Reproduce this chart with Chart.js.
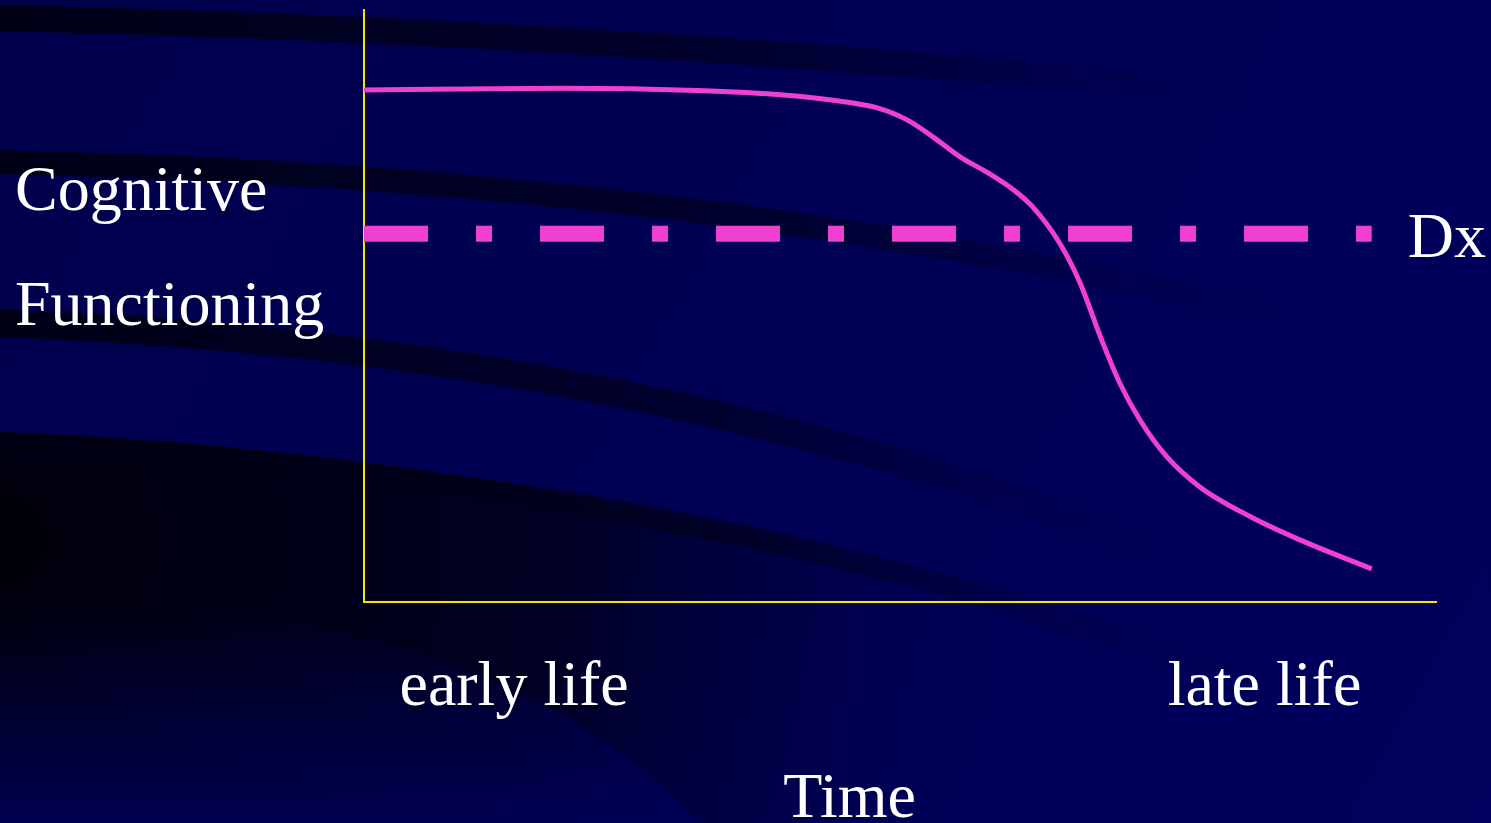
<!DOCTYPE html>
<html>
<head>
<meta charset="utf-8">
<title>Cognitive Functioning over Time</title>
<script src="https://cdn.jsdelivr.net/npm/chart.js@4/dist/chart.umd.min.js"></script>
<style>
    html, body { margin: 0; padding: 0; background: #000052; overflow: hidden; }
    #wrap { position: relative; width: 1491px; height: 823px; }
</style>
</head>
<body>
<div id="wrap"><canvas id="chart"></canvas></div>
<script>
// datos (escala 0-100 en ambos ejes)
const timeX      = [0, 18.6, 31.1, 39.4, 43.6, 47.8, 50.7, 53.2, 55.6, 58.1, 60.6, 62.4, 64.9, 66.8, 68.7, 70.5, 72.4, 74.9, 78.0, 82.7, 87.3, 94.0];
const cognitionY = [86.5, 86.8, 86.4, 85.6, 84.8, 83.5, 81.4, 78.4, 75.2, 72.6, 69.6, 66.7, 60.6, 53.9, 44.8, 37.0, 30.7, 24.5, 19.4, 14.4, 10.5, 5.6];

// umbral de diagnostico
const dxX = [0, 94.0];
const dxY = [62.2, 62.2];

// textos
const yTitleLines = ['Cognitive', 'Functioning'];
const timeLabels = ['early life', 'late life'];
const timeLabelAt = [14.0, 84.0];
const xTitle = 'Time';
const xTitleAt = 45.3;
const dxLabel = 'Dx';

const MAGENTA = '#f040d2';
const YELLOW = '#f2e600';
const FONT = '64px "Liberation Serif", "Times New Roman", serif';

// fondo tipo diapositiva con franjas oscuras
const fondoPlugin = {
    id: 'fondo',
    beforeDraw(chart) {
        const ctx = chart.ctx;
        const w = chart.width, h = chart.height;
        ctx.save();
        const base = ctx.createLinearGradient(0, 0, w, h);
        base.addColorStop(0, '#00004c');
        base.addColorStop(1, '#00005e');
        ctx.fillStyle = base;
        ctx.fillRect(0, 0, w, h);

        // zona oscura inferior izquierda
        const dark = ctx.createRadialGradient(0, 540, 20, 0, 540, 1000);
        dark.addColorStop(0, 'rgba(0,0,12,1)');
        dark.addColorStop(0.55, 'rgba(0,0,30,0.9)');
        dark.addColorStop(1, 'rgba(0,0,70,0)');
        ctx.fillStyle = dark;
        ctx.beginPath();
        ctx.moveTo(0, 432);
        ctx.quadraticCurveTo(700, 460, 1250, 700);
        ctx.quadraticCurveTo(1150, 760, 1070, 823);
        ctx.lineTo(0, 823);
        ctx.closePath();
        ctx.fill();

        // borde inferior de la zona oscura (se aclara hacia abajo)
        const fade = ctx.createLinearGradient(0, 600, 0, 823);
        fade.addColorStop(0, 'rgba(0,0,82,0)');
        fade.addColorStop(1, 'rgba(0,0,90,0.85)');
        ctx.fillStyle = fade;
        ctx.beginPath();
        ctx.moveTo(0, 600);
        ctx.quadraticCurveTo(500, 600, 700, 823);
        ctx.lineTo(0, 823);
        ctx.closePath();
        ctx.fill();

        // franjas
        const bandas = [
            { y0: 18, cx: 600, cy: 30, x1: 1250, y1: 95, ancho: 26 },
            { y0: 162, cx: 700, cy: 175, x1: 1300, y1: 320, ancho: 24 },
            { y0: 323, cx: 650, cy: 345, x1: 1180, y1: 560, ancho: 28 },
            { y0: 448, cx: 700, cy: 470, x1: 1260, y1: 690, ancho: 22 }
        ];
        bandas.forEach(b => {
            const g = ctx.createLinearGradient(0, 0, b.x1, 0);
            g.addColorStop(0, 'rgba(0,0,20,0.95)');
            g.addColorStop(0.6, 'rgba(0,0,30,0.7)');
            g.addColorStop(1, 'rgba(0,0,60,0)');
            ctx.strokeStyle = g;
            ctx.lineWidth = b.ancho;
            ctx.beginPath();
            ctx.moveTo(-10, b.y0);
            ctx.quadraticCurveTo(b.cx, b.cy, b.x1, b.y1);
            ctx.stroke();
        });
        ctx.restore();
    }
};

// etiquetas de texto
const textosPlugin = {
    id: 'textos',
    afterDraw(chart) {
        const ctx = chart.ctx;
        const xs = chart.scales.x, ys = chart.scales.y;
        ctx.save();
        ctx.font = FONT;
        ctx.fillStyle = '#ffffff';
        ctx.textBaseline = 'alphabetic';

        ctx.textAlign = 'left';
        ctx.fillText(yTitleLines[0], 15, 210);
        ctx.fillText(yTitleLines[1], 15, 325);

        ctx.fillText(dxLabel, xs.getPixelForValue(dxX[1]) + 36, ys.getPixelForValue(dxY[0]) + 23);

        ctx.textAlign = 'center';
        timeLabels.forEach((t, i) => {
            ctx.fillText(t, xs.getPixelForValue(timeLabelAt[i]), chart.chartArea.bottom + 103);
        });
        ctx.fillText(xTitle, xs.getPixelForValue(xTitleAt), chart.chartArea.bottom + 215);
        ctx.restore();
    }
};

const toPoints = (xs, ys) => xs.map((x, i) => ({ x: x, y: ys[i] }));

new Chart(document.getElementById('chart'), {
    type: 'line',
    data: {
        datasets: [
            {
                label: 'Dx',
                data: toPoints(dxX, dxY),
                borderColor: MAGENTA,
                borderWidth: 16,
                borderDash: [64, 48, 16, 48],
                borderCapStyle: 'butt',
                pointRadius: 0,
                fill: false
            },
            {
                label: 'Cognitive Functioning',
                data: toPoints(timeX, cognitionY),
                borderColor: MAGENTA,
                borderWidth: 5,
                cubicInterpolationMode: 'monotone',
                borderCapStyle: 'butt',
                pointRadius: 0,
                fill: false
            }
        ]
    },
    options: {
        responsive: true,
        maintainAspectRatio: false,
        animation: false,
        layout: { padding: { left: 364, right: 55, top: 10, bottom: 221 } },
        plugins: {
            legend: { display: false },
            tooltip: { enabled: false }
        },
        scales: {
            x: {
                type: 'linear',
                min: 0,
                max: 100,
                grid: { display: false, drawTicks: false },
                ticks: { display: false },
                border: { display: true, color: YELLOW, width: 2 }
            },
            y: {
                type: 'linear',
                min: 0,
                max: 100,
                grid: { display: false, drawTicks: false },
                ticks: { display: false },
                border: { display: true, color: YELLOW, width: 2 }
            }
        }
    },
    plugins: [fondoPlugin, textosPlugin]
});
</script>
</body>
</html>
